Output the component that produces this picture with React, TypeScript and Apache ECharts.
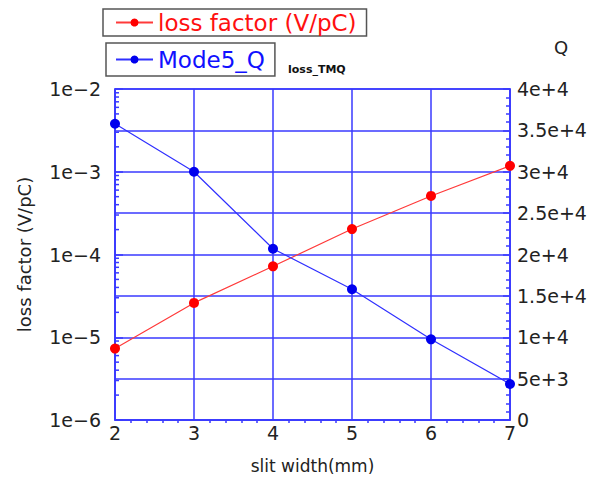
import React, { useEffect, useRef } from "react";
import * as echarts from "echarts";

const slitWidth = [2, 3, 4, 5, 6, 7];
const lossFactor = [7.3e-6, 2.6e-5, 7.2e-5, 2.03e-4, 5.1e-4, 1.18e-3];
const mode5Q = [35800, 30000, 20700, 15800, 9750, 4350];
const logDecades = [-6, -5, -4, -3];
const logMinorMultipliers = [2, 3, 4, 5, 6, 7, 8, 9];

const AXIS_BLUE = "#3a3aff";
const FONT = "DejaVu Sans";

export default function App() {
  const ref = useRef<HTMLDivElement>(null);
  useEffect(() => {
    if (!ref.current) return;
    const chart = echarts.init(ref.current, null, { renderer: "svg" });
    const minorLogTicks: number[][] = [];
    logDecades.forEach((d) =>
      logMinorMultipliers.forEach((m) => minorLogTicks.push([2, m * Math.pow(10, d)]))
    );
    chart.setOption({
      animation: false,
      backgroundColor: "#ffffff",
      grid: {
        left: 115,
        right: 84,
        top: 89,
        bottom: 55,
        show: true,
        borderColor: AXIS_BLUE,
        borderWidth: 1.5,
      },
      legend: [
        {
          data: ["loss factor (V/pC)"],
          left: 103,
          top: 9,
          borderColor: "#555",
          borderWidth: 1.5,
          padding: [2, 10, 2, 12],
          itemWidth: 37,
          itemHeight: 10,
          itemGap: 4,
          selectedMode: false,
          textStyle: { color: "#ff1010", fontSize: 23, fontFamily: FONT },
        },
        {
          data: ["Mode5_Q"],
          left: 106,
          top: 43,
          borderColor: "#555",
          borderWidth: 1.5,
          padding: [5, 10, 5, 9],
          itemWidth: 37,
          itemHeight: 10,
          selectedMode: false,
          textStyle: { color: "#1010ff", fontSize: 23, fontFamily: FONT },
        },
      ],
      graphic: [
        {
          type: "text",
          left: 288,
          top: 64,
          style: { text: "loss_TMQ", fontSize: 11, fontWeight: "bold", fontFamily: FONT, fill: "#111" },
        },
        {
          type: "text",
          left: 554,
          top: 38,
          style: { text: "Q", fontSize: 18, fontFamily: FONT, fill: "#222" },
        },
      ],
      xAxis: {
        type: "value",
        min: 2,
        max: 7,
        interval: 1,
        name: "slit width(mm)",
        nameLocation: "middle",
        nameGap: 37,
        nameTextStyle: { fontSize: 17, fontFamily: FONT, color: "#222" },
        axisLine: { show: true, lineStyle: { color: AXIS_BLUE, width: 1.5 } },
        axisTick: { show: false },
        minorTick: { show: true, splitNumber: 5, length: 3, lineStyle: { color: AXIS_BLUE, width: 1.5 } },
        axisLabel: { fontSize: 19, fontFamily: FONT, color: "#222", margin: 3 },
        splitLine: { show: true, lineStyle: { color: AXIS_BLUE, width: 1.5 } },
      },
      yAxis: [
        {
          type: "log",
          logBase: 10,
          min: 1e-6,
          max: 1e-2,
          name: "loss factor (V/pC)",
          nameLocation: "middle",
          nameGap: 82,
          nameTextStyle: { fontSize: 18, fontFamily: FONT, color: "#222" },
          axisLine: { show: true, lineStyle: { color: AXIS_BLUE, width: 1.5 } },
          axisTick: { show: true, inside: true, length: 8, lineStyle: { color: AXIS_BLUE, width: 1.5 } },
          axisLabel: {
            fontSize: 19,
            fontFamily: FONT,
            color: "#222",
            margin: 14,
            formatter: (v: number) => {
              const e = Math.round(Math.log10(v));
              return "1e" + (e < 0 ? "\u2212" + Math.abs(e) : "+" + e);
            },
          },
          splitLine: { show: false },
        },
        {
          type: "value",
          min: 0,
          max: 40000,
          interval: 5000,
          position: "right",
          axisLine: { show: true, lineStyle: { color: AXIS_BLUE, width: 1.5 } },
          axisTick: { show: true, inside: true, length: 7, lineStyle: { color: AXIS_BLUE, width: 1.5 } },
          minorTick: { show: true, splitNumber: 5, length: 4, lineStyle: { color: AXIS_BLUE, width: 1.5 } },
          axisLabel: {
            fontSize: 19,
            fontFamily: FONT,
            color: "#222",
            margin: 7,
            formatter: (v: number) => {
              if (v === 0) return "0";
              const e = Math.floor(Math.log10(v));
              const m = Math.round((v / Math.pow(10, e)) * 10) / 10;
              return m + "e+" + e;
            },
          },
          splitLine: { show: true, lineStyle: { color: AXIS_BLUE, width: 1.5 } },
        },
      ],
      series: [
        {
          name: "loss factor (V/pC)",
          type: "line",
          yAxisIndex: 0,
          data: slitWidth.map((x, i) => [x, lossFactor[i]]),
          symbol: "circle",
          symbolSize: 10,
          lineStyle: { color: "#ff3a3a", width: 1.2 },
          itemStyle: { color: "#ff0000" },
          z: 5,
        },
        {
          name: "Mode5_Q",
          type: "line",
          yAxisIndex: 1,
          data: slitWidth.map((x, i) => [x, mode5Q[i]]),
          symbol: "circle",
          symbolSize: 10,
          lineStyle: { color: "#3030ff", width: 1.2 },
          itemStyle: { color: "#0000ee" },
          z: 5,
        },
        {
          name: "logMinorTicks",
          type: "custom",
          yAxisIndex: 0,
          silent: true,
          data: minorLogTicks,
          renderItem: (_p: any, api: any) => {
            const pt = api.coord([api.value(0), api.value(1)]);
            return {
              type: "line",
              shape: { x1: pt[0], y1: pt[1], x2: pt[0] + 4, y2: pt[1] },
              style: { stroke: AXIS_BLUE, lineWidth: 1.5 },
            };
          },
          z: 4,
        },
      ],
    });
    return () => chart.dispose();
  }, []);
  return (
    <div
      ref={ref}
      style={{ position: "fixed", left: 0, top: 0, width: 594, height: 479 }}
    />
  );
}
